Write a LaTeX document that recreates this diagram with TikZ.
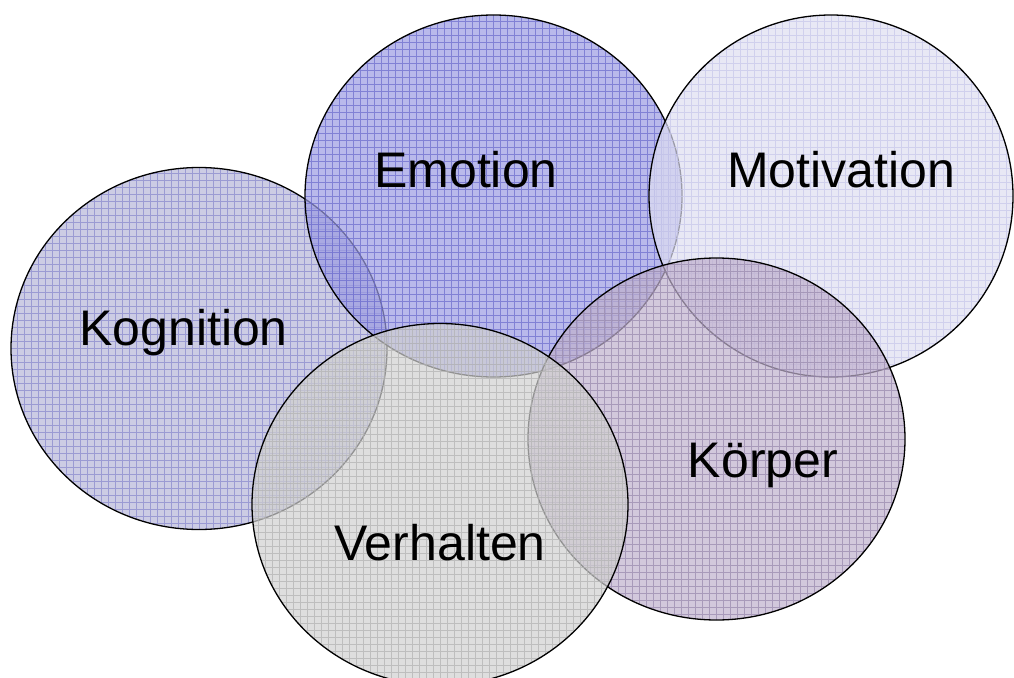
\documentclass[tikz,border=0pt]{standalone}
\usepackage{fontspec}
\setmainfont{Liberation Sans}
\usetikzlibrary{shapes.geometric}
\definecolor{kogfill}{RGB}{183,183,216}
\definecolor{koggrid}{RGB}{135,135,205}
\definecolor{emofill}{RGB}{155,155,226}
\definecolor{emogrid}{RGB}{105,105,205}
\definecolor{motfill}{RGB}{222,222,241}
\definecolor{motgrid}{RGB}{198,198,234}
\definecolor{koefill}{RGB}{191,176,205}
\definecolor{koegrid}{RGB}{150,135,172}
\definecolor{verfill}{RGB}{208,208,208}
\definecolor{vergrid}{RGB}{178,178,178}
\tikzset{
  bubble/.style n args={2}{ellipse, inner sep=0pt, outer sep=0pt,
    minimum width=376pt, minimum height=362pt,
    fill=#1, fill opacity=0.7, draw=black, draw opacity=1, line width=1.3pt,
    path picture={\draw[#2, line width=0.5pt, draw opacity=0.7]
      (path picture bounding box.south west) grid[step=7pt]
      (path picture bounding box.north east);}},
  label/.style={anchor=base, inner sep=0pt, font=\fontsize{50}{60}\selectfont, text=black}
}
\begin{document}
\begin{tikzpicture}[x=1pt,y=-1pt]
\useasboundingbox (0,0) rectangle (1014,677);
\node (kog) [bubble={kogfill}{koggrid}] at (199,348.5) {};
\node (emo) [bubble={emofill}{emogrid}, minimum width=377pt] at (493.5,196) {};
\node (mot) [bubble={motfill}{motgrid}, minimum width=364pt] at (831,196) {};
\node (koe) [bubble={koefill}{koegrid}, minimum width=377pt] at (716.5,439) {};
\node (ver) [bubble={verfill}{vergrid}] at (440,504.5) {};
\node (tkog) [label] at (183.5,345) {Kognition};
\node (temo) [label] at (466,187) {Emotion};
\node (tmot) [label] at (841,187) {Motivation};
\node (tkoe) [label] at (763,477) {Körper};
\node (tver) [label] at (440,560) {Verhalten};
\end{tikzpicture}
\end{document}
